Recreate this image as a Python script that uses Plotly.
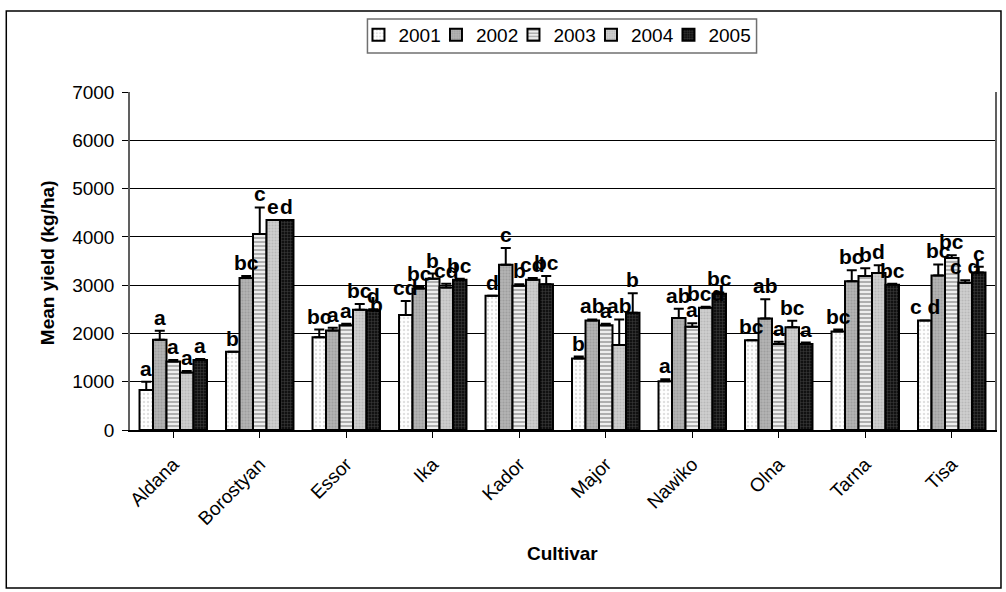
import plotly.graph_objects as go

cultivars = ["Aldana", "Borostyan", "Essor", "Ika", "Kador", "Major", "Nawiko", "Olna", "Tarna", "Tisa"]
years = ["2001", "2002", "2003", "2004", "2005"]

y2001 = [830, 1620, 1920, 2380, 2780, 1480, 1010, 1860, 2040, 2270]
y2002 = [1870, 3150, 2060, 2930, 3420, 2270, 2320, 2310, 3080, 3200]
y2003 = [1420, 4060, 2170, 3130, 2990, 2170, 2140, 1780, 3190, 3560]
y2004 = [1190, 4350, 2490, 2950, 3110, 1760, 2530, 2130, 3250, 3050]
y2005 = [1450, 4350, 2480, 3110, 3020, 2430, 2820, 1780, 3010, 3260]

e2001 = [170, 0, 160, 290, 0, 40, 40, 0, 40, 0]
e2002 = [185, 40, 60, 40, 350, 20, 190, 400, 230, 230]
e2003 = [30, 550, 30, 110, 30, 30, 70, 50, 160, 60]
e2004 = [30, 0, 120, 80, 40, 530, 20, 130, 160, 50]
e2005 = [20, 0, 20, 20, 170, 400, 30, 30, 20, 120]

l2001 = ["a", "b", "bc", "cd", "d", "b", "a", "bc", "bc", "c d"]
l2002 = ["a", "bc", "a", "bc", "c", "ab", "ab", "ab", "bc", "bc"]
l2003 = ["a", "c", "a", "b", "b", "a", "a", "a", "b", "bc"]
l2004 = ["a", "e", "bc", "cd", "cd", "ab", "bcd", "bc", "d", "c d"]
l2005 = ["a", "d", "d/b", "bc", "bc", "b", "bc", "a", "bc", "c"]

values = [y2001, y2002, y2003, y2004, y2005]
errors = [e2001, e2002, e2003, e2004, e2005]
labels = [l2001, l2002, l2003, l2004, l2005]

patterns = [
    dict(shape=".", bgcolor="white", fgcolor="#c0c0c0", size=4, solidity=0.3),
    dict(shape=".", bgcolor="#b4b4b4", fgcolor="#888888", size=3, solidity=0.4),
    dict(shape="-", bgcolor="#eeeeee", fgcolor="#707070", size=4, solidity=0.5),
    dict(shape=".", bgcolor="#d0d0d0", fgcolor="#a0a0a0", size=3, solidity=0.4),
    dict(shape="+", bgcolor="#111111", fgcolor="#707070", size=3, solidity=0.3),
]

# pixel geometry
W, H = 1006, 592
L, R, T, B = 130, 997, 92, 430
pw, ph = R - L, B - T

def px2paper_x(px):
    return (px - L) / pw

def px2paper_y(py):
    return (B - py) / ph

FONT = "Liberation Sans, Arial, sans-serif"

fig = go.Figure()
for i, yr in enumerate(years):
    fig.add_trace(go.Bar(
        name=yr, x=cultivars, y=values[i],
        marker=dict(color=patterns[i]["bgcolor"], line=dict(color="black", width=2), pattern=patterns[i]),
        error_y=dict(type="data", array=errors[i], arrayminus=[0] * len(errors[i]), symmetric=False,
                     color="black", thickness=2, width=5),
    ))
# invisible spacer legend entry so the last legend label is not clipped
fig.add_trace(go.Scatter(x=[None], y=[None], mode="lines", line=dict(width=0, color="rgba(0,0,0,0)"),
                         name=" ", showlegend=True, hoverinfo="skip"))

n = len(years)
cat_w = pw / len(cultivars)
bargap = 0.22
bar_w = cat_w * (1 - bargap) / n

annotations = []
for i in range(n):
    off = (i - (n - 1) / 2) * bar_w
    for j, c in enumerate(cultivars):
        top = values[i][j] + errors[i][j]
        parts = labels[i][j].split("/")
        for k, p in enumerate(parts):
            annotations.append(dict(
                x=c, y=top, xref="x", yref="y", text=p, showarrow=False,
                xshift=off + 3 * k, yshift=0 - 9 * k, yanchor="bottom", xanchor="center",
                font=dict(family=FONT, size=21, color="black", weight="bold"),
            ))

annotations.append(dict(x=0.5, y=px2paper_y(553), xref="paper", yref="paper", text="Cultivar",
                        showarrow=False, xanchor="center", yanchor="middle",
                        font=dict(family=FONT, size=19, color="black", weight="bold")))
annotations.append(dict(x=px2paper_x(47), y=px2paper_y(263), xref="paper", yref="paper",
                        text="Mean yield (kg/ha)", textangle=-90, showarrow=False,
                        xanchor="center", yanchor="middle",
                        font=dict(family=FONT, size=19, color="black", weight="bold")))

shapes = [
    dict(type="rect", xref="paper", yref="paper",
         x0=px2paper_x(6), x1=px2paper_x(1003), y0=px2paper_y(588), y1=px2paper_y(11),
         line=dict(color="black", width=1.5), fillcolor="rgba(0,0,0,0)", layer="below"),
    dict(type="rect", xref="paper", yref="paper",
         x0=px2paper_x(368), x1=px2paper_x(758), y0=px2paper_y(53), y1=px2paper_y(19),
         line=dict(color="#707070", width=1.5), fillcolor="white", layer="below"),
]

fig.update_layout(
    width=W, height=H,
    margin=dict(l=L, r=W - R, t=T, b=H - B, pad=0),
    paper_bgcolor="white", plot_bgcolor="white",
    barmode="group", bargap=bargap, bargroupgap=0,
    font=dict(family=FONT, size=19, color="black"),
    showlegend=True,
    legend=dict(orientation="h", x=px2paper_x(359), y=px2paper_y(16), xanchor="left", yanchor="top",
                borderwidth=0, bgcolor="rgba(0,0,0,0)",
                font=dict(family=FONT, size=19, color="black"),
                entrywidth=32.5, entrywidthmode="pixels", itemwidth=30, tracegroupgap=0),
    annotations=annotations, shapes=shapes,
)
fig.update_xaxes(type="category", showline=True, linecolor="black", linewidth=1.5,
                 ticks="outside", ticklen=6, tickcolor="black", tickangle=-45,
                 ticklabelstandoff=8,
                 tickfont=dict(family=FONT, size=19), showgrid=False, mirror=False)
fig.update_yaxes(range=[0, 7000], dtick=1000, showline=True, linecolor="#606060", linewidth=1.5,
                 ticks="outside", ticklen=6, tickcolor="black", tickfont=dict(family=FONT, size=19),
                 ticklabelstandoff=4,
                 showgrid=True, gridcolor="black", gridwidth=1, zeroline=False, mirror=True)

fig.write_html("out.html", config={"displayModeBar": False},
               post_script="document.body.style.margin='0';document.body.style.overflow='hidden';")
